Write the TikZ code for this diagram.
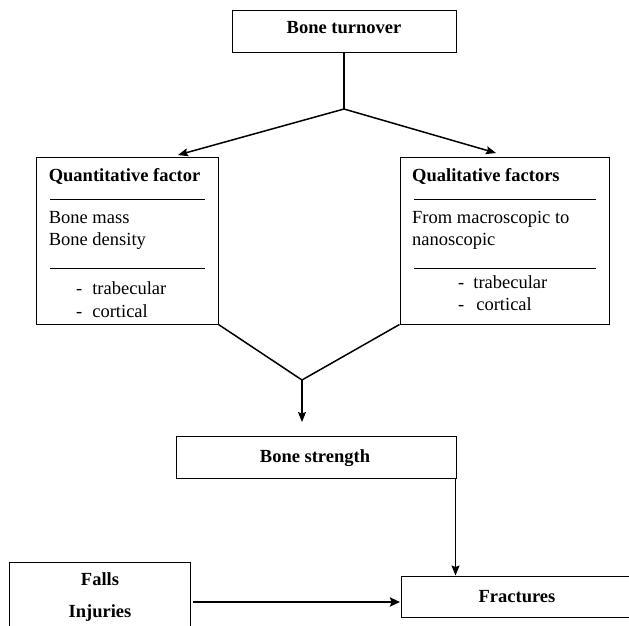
\documentclass[tikz,border=0pt]{standalone}
\usepackage{fontspec}
\setmainfont{Liberation Serif}
\usetikzlibrary{arrows.meta}
\begin{document}
\begin{tikzpicture}[x=1pt,y=-1pt,
  box/.style={draw,line width=1pt,inner sep=0pt,minimum width=#1},
  txt/.style={inner sep=0pt,font=\fontsize{18.5}{22}\selectfont},
  btxt/.style={inner sep=0pt,font=\fontsize{18.5}{22}\selectfont\bfseries},
  conn/.style={line width=1.5pt},
  arr/.style={line width=1.5pt,-{Stealth[length=10pt,width=8pt,inset=1.5pt]}},
  thickarr/.style={line width=2.8pt,-{Stealth[length=10pt,width=9pt,inset=1.5pt]}},
  sep/.style={line width=1pt}]
\useasboundingbox (0,0) rectangle (629,625);
% boxes
\node[box=224pt,minimum height=42pt] (turn) at (344,31.7) {};
\node[box=181.5pt,minimum height=167pt] (quant) at (127.25,240.5) {};
\node[box=209pt,minimum height=167pt] (qual) at (504.5,240.5) {};
\node[box=280pt,minimum height=42pt] (strength) at (316,457) {};
\node[box=232pt,minimum height=41pt] (fract) at (517,596.5) {};
\node[box=181pt,minimum height=68pt] (falls) at (99.5,596) {};
% texts
\node[btxt,anchor=base] (tturn) at (344,33) {Bone turnover};
\node[btxt,anchor=base west] (tquant) at (48.6,181) {Quantitative factor};
\node[txt,anchor=base west] (tq1) at (48.6,223) {Bone mass};
\node[txt,anchor=base west] (tq2) at (48.6,245) {Bone density};
\node[txt,anchor=base west] (tq3) at (76,294) {-\hspace{10pt}trabecular};
\node[txt,anchor=base west] (tq4) at (76,317) {-\hspace{10pt}cortical};
\node[btxt,anchor=base west] (tqual) at (412,181) {Qualitative factors};
\node[txt,anchor=base west] (tl1) at (412,223) {From macroscopic to};
\node[txt,anchor=base west] (tl2) at (412,245) {nanoscopic};
\node[txt,anchor=base west] (tl3) at (458,288) {-\hspace{9pt}trabecular};
\node[txt,anchor=base west] (tl4) at (458,310) {-\hspace{12pt}cortical};
\node[btxt,anchor=base] (tstrength) at (315,462) {Bone strength};
\node[btxt,anchor=base] (tfract) at (517,602) {Fractures};
\node[btxt,anchor=base] (tfalls) at (100,585) {Falls};
\node[btxt,anchor=base] (tinj) at (100,617) {Injuries};
% separators
\draw[sep] (50,199) -- (205,199);
\draw[sep] (50,268) -- (205,268);
\draw[sep] (414,199) -- (596,199);
\draw[sep] (414,268) -- (596,268);
% connectors
\coordinate (j1) at (344,109);
\coordinate (qa) at (178,155);
\coordinate (la) at (496,153);
\coordinate (j2) at (302,380);
\coordinate (sa) at (302,422);
\coordinate (fa) at (193,602);
\coordinate (fb) at (400,602);
\draw[conn] (turn.south) -- (j1);
\draw[arr] (j1) -- (qa);
\draw[arr] (j1) -- (la);
\draw[conn,line join=miter] (quant.south east) -- (j2) -- (qual.south west);
\draw[arr] (j2) -- (sa);
\draw[arr,line width=1.2pt] ([xshift=-1pt]strength.south east) -- ([xshift=-1pt]strength.south east |- fract.north);
\draw[thickarr] (fa) -- (fb);
\end{tikzpicture}
\end{document}
